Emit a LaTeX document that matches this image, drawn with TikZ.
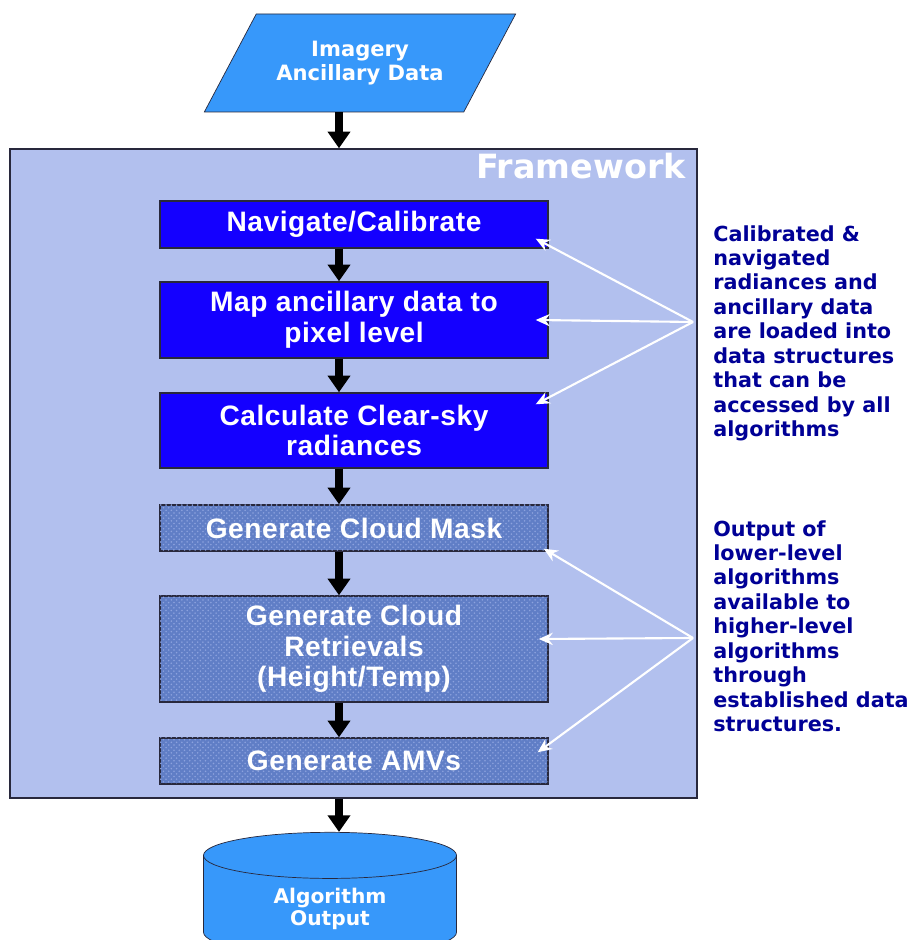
\documentclass[tikz,border=0pt]{standalone}
\usepackage{fontspec}
\setmainfont{Liberation Sans}
\newfontfamily\comicfont{DejaVu Sans}
\usetikzlibrary{arrows.meta,shapes.geometric,patterns}
\definecolor{framefill}{RGB}{178,192,238}
\definecolor{skyblue}{RGB}{55,152,250}
\definecolor{deepblue}{RGB}{20,0,255}
\definecolor{texblue}{RGB}{96,126,198}
\definecolor{texspeck}{RGB}{140,162,222}
\definecolor{notenavy}{RGB}{0,0,150}
\definecolor{edgegray}{RGB}{40,40,60}

\begin{document}
\begin{tikzpicture}[
  every node/.style={align=center},
  box/.style={draw=edgegray, line width=0.8pt, text=white, minimum width=7.76cm, inner sep=2pt,
    font=\fontsize{16}{17.5}\selectfont\bfseries\addfontfeature{LetterSpace=2}},
  proc/.style={box, fill=deepblue},
  algo/.style={box, fill=texblue, postaction={pattern=crosshatch dots, pattern color=texspeck}},
  flow/.style={-{Triangle[length=9.5pt,width=12.5pt]}, line width=4pt},
  note/.style={-{Stealth[length=8pt,width=7pt]}, draw=white, line width=1.2pt},
  remark/.style={anchor=north west, align=left, inner sep=0pt, text=notenavy,
    font=\comicfont\bfseries\fontsize{11.8}{13.9}\selectfont}
]
\useasboundingbox (0,0) rectangle (18.26,18.8);

% input and framework
\node[trapezium, trapezium left angle=51.5, trapezium right angle=128.5, trapezium stretches=true,
  draw=edgegray, fill=skyblue, minimum width=6.24cm, minimum height=1.96cm, text=white,
  font=\comicfont\bfseries\fontsize{12}{14}\selectfont] (inp) at (7.2,17.54) {Imagery\\Ancillary Data};
\node[draw=edgegray, fill=framefill, line width=0.8pt, minimum width=13.74cm, minimum height=12.98cm] (frame) at (7.07,9.33) {};
\node[anchor=north east, inner sep=0pt, text=white, font=\comicfont\bfseries\fontsize{19}{22}\selectfont] (fwtitle) at (13.72,15.74) {Framework};

% processing steps
\node[proc, minimum height=0.94cm] (nav) at (7.08,14.31) {Navigate/Calibrate};
\node[proc, minimum height=1.52cm] (map) at (7.08,12.40) {Map ancillary data to\\pixel level};
\node[proc, minimum height=1.50cm] (calc) at (7.08,10.19) {Calculate Clear-sky\\radiances};
\node[algo, minimum height=0.92cm] (mask) at (7.08,8.24) {Generate Cloud Mask};
\node[algo, minimum height=2.12cm] (retr) at (7.08,5.82) {Generate Cloud\\Retrievals\\(Height/Temp)};
\node[algo, minimum height=0.92cm] (amv) at (7.08,3.58) {Generate AMVs};

% output
\node[cylinder, shape border rotate=90, aspect=0.37, draw=edgegray, fill=skyblue,
  minimum width=5.06cm, minimum height=2.46cm, text=white,
  font=\comicfont\bfseries\fontsize{11.5}{13}\selectfont] (out) at (6.6,0.62) {Algorithm\\Output};

% side remarks
\node[remark] (rem1) at (14.26,14.3) {Calibrated \&\\navigated\\radiances and\\ancillary data\\are loaded into\\data structures\\that can be\\accessed by all\\algorithms};
\node[remark] (rem2) at (14.26,8.4) {Output of\\lower-level\\algorithms\\available to\\higher-level\\algorithms\\through\\established data\\structures.};

% main flow
\coordinate (ax) at (6.78,0);
\draw[flow] (inp.south -| ax) -- (frame.north -| ax);
\draw[flow] (nav.south -| ax) -- (map.north -| ax);
\draw[flow] (map.south -| ax) -- (calc.north -| ax);
\draw[flow] (calc.south -| ax) -- (mask.north -| ax);
\draw[flow] (mask.south -| ax) -- (retr.north -| ax);
\draw[flow] (retr.south -| ax) -- (amv.north -| ax);
\draw[flow] (frame.south -| ax) -- (out.north -| ax);

% pointers from remarks
\coordinate (hubA) at (13.86,12.36);
\coordinate (hubB) at (13.86,6.04);
\draw[note] (hubA) -- ([shift={(-0.26,0.2)}]nav.south east);
\draw[note] (hubA) -- ([xshift=-0.26cm]map.east);
\draw[note] (hubA) -- ([shift={(-0.26,-0.24)}]calc.north east);
\draw[note] (hubB) -- ([shift={(-0.1,0.06)}]mask.south east);
\draw[note] (hubB) -- ([shift={(-0.2,0.2)}]retr.east);
\draw[note] (hubB) -- ([shift={(-0.22,-0.3)}]amv.north east);
\end{tikzpicture}
\end{document}
